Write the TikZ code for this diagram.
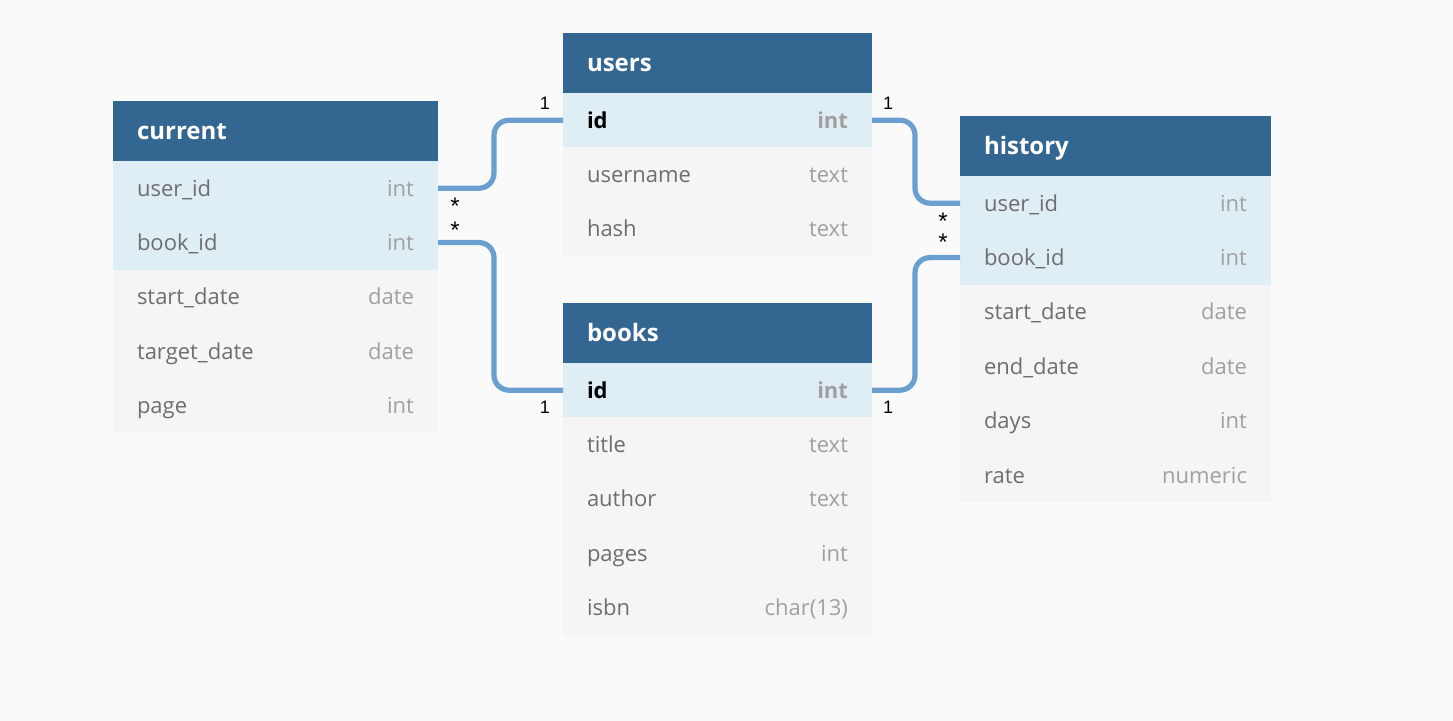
\documentclass[tikz,border=0pt]{standalone}
\usepackage{fontspec}
\setmainfont{Open Sans}
\newfontfamily\cardfont{Liberation Sans}
\usepackage{tikz}
\usetikzlibrary{positioning}
\usepackage{xcolor}
\definecolor{headblue}{HTML}{336791}
\definecolor{keyrow}{HTML}{DFEDF5}
\definecolor{plainrow}{HTML}{F5F5F5}
\definecolor{pagebg}{HTML}{FAFAFA}
\definecolor{linkblue}{HTML}{6A9FCF}
\definecolor{colname}{HTML}{6E6E6E}
\definecolor{coltype}{HTML}{A0A0A0}
\newcommand{\fld}[2]{\textcolor{colname}{#1}\hfill\textcolor{coltype}{#2}}
\newcommand{\pkfld}[2]{\textbf{\textcolor{black}{#1}\hfill\textcolor{coltype}{#2}}}

\begin{document}
\begin{tikzpicture}[x=0.5pt, y=-0.5pt, node distance=0pt,
  head/.style={fill=headblue, text=white, font=\fontsize{12}{14}\selectfont\bfseries,
    anchor=north west, minimum height=30pt, text height=11pt, text depth=2pt,
    inner xsep=12pt, inner ysep=0pt, outer sep=0pt, text width=#1},
  row/.style={fill=plainrow, font=\fontsize{11}{13}\selectfont,
    minimum height=27.2pt, text height=9pt, text depth=1pt,
    inner xsep=12pt, inner ysep=0pt, outer sep=0pt, text width=#1},
  key/.style={row=#1, fill=keyrow},
  link/.style={draw=linkblue, line width=2.6pt, rounded corners=7.5pt},
  card/.style={font=\cardfont\fontsize{9}{10}\selectfont, inner sep=0pt},
  many/.style={card, font=\cardfont\fontsize{12}{12}\selectfont,
    text height=8.6pt, text depth=-5.4pt}]
\fill[pagebg] (0,0) rectangle (1453,721);
\useasboundingbox (0,0) rectangle (1453,721);
% current
\node[head=138.5pt] (cur) at (113,101) {current};
\node[key=138.5pt, below=of cur] (cur-user) {\fld{user\_id}{int}};
\node[key=138.5pt, below=of cur-user] (cur-book) {\fld{book\_id}{int}};
\node[row=138.5pt, below=of cur-book] (cur-start) {\fld{start\_date}{date}};
\node[row=138.5pt, below=of cur-start] (cur-target) {\fld{target\_date}{date}};
\node[row=138.5pt, below=of cur-target] (cur-page) {\fld{page}{int}};
% users
\node[head=130.5pt] (usr) at (563,33) {users};
\node[key=130.5pt, below=of usr] (usr-id) {\pkfld{id}{int}};
\node[row=130.5pt, below=of usr-id] (usr-name) {\fld{username}{text}};
\node[row=130.5pt, below=of usr-name] (usr-hash) {\fld{hash}{text}};
% books
\node[head=130.5pt] (bk) at (563,303) {books};
\node[key=130.5pt, below=of bk] (bk-id) {\pkfld{id}{int}};
\node[row=130.5pt, below=of bk-id] (bk-title) {\fld{title}{text}};
\node[row=130.5pt, below=of bk-title] (bk-author) {\fld{author}{text}};
\node[row=130.5pt, below=of bk-author] (bk-pages) {\fld{pages}{int}};
\node[row=130.5pt, below=of bk-pages] (bk-isbn) {\fld{isbn}{char(13)}};
% history
\node[head=131.5pt] (hist) at (960,116) {history};
\node[key=131.5pt, below=of hist] (hist-user) {\fld{user\_id}{int}};
\node[key=131.5pt, below=of hist-user] (hist-book) {\fld{book\_id}{int}};
\node[row=131.5pt, below=of hist-book] (hist-start) {\fld{start\_date}{date}};
\node[row=131.5pt, below=of hist-start] (hist-end) {\fld{end\_date}{date}};
\node[row=131.5pt, below=of hist-end] (hist-days) {\fld{days}{int}};
\node[row=131.5pt, below=of hist-days] (hist-rate) {\fld{rate}{numeric}};
% relations
\draw[link] (cur-user.east) -- ++(56,0) |- (usr-id.west);
\draw[link] (cur-book.east) -- ++(56,0) |- (bk-id.west);
\draw[link] (usr-id.east) -- ++(43,0) |- (hist-user.west);
\draw[link] (bk-id.east) -- ++(43,0) |- (hist-book.west);
\node[many] (m-cu) at ([shift={(17,18)}]cur-user.east) {*};
\node[card] (o-cu) at ([shift={(-18,-17)}]usr-id.west) {1};
\node[many] (m-cb) at ([shift={(17,-13)}]cur-book.east) {*};
\node[card] (o-cb) at ([shift={(-18,17)}]bk-id.west) {1};
\node[card] (o-hu) at ([shift={(16,-17)}]usr-id.east) {1};
\node[many] (m-hu) at ([shift={(-17,18)}]hist-user.west) {*};
\node[card] (o-hb) at ([shift={(16,17)}]bk-id.east) {1};
\node[many] (m-hb) at ([shift={(-17,-16)}]hist-book.west) {*};
\end{tikzpicture}
\end{document}
